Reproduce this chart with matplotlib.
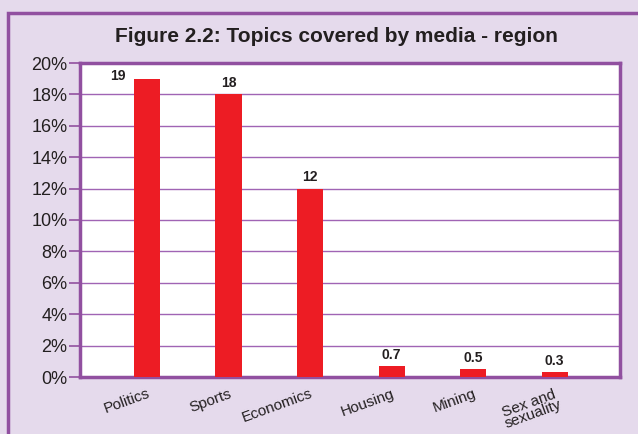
import matplotlib
matplotlib.use("Agg")
import matplotlib.pyplot as plt
from matplotlib.patches import Rectangle
from matplotlib.ticker import FuncFormatter

plt.rcParams['font.family'] = ['Liberation Sans', 'DejaVu Sans']

categories = ["Politics", "Sports", "Economics", "Housing", "Mining", "Sex and\nsexuality"]
values = [19, 18, 12, 0.7, 0.5, 0.3]
labels = ["19", "18", "12", "0.7", "0.5", "0.3"]
yticks = [0, 2, 4, 6, 8, 10, 12, 14, 16, 18, 20]

bg = "#E5DAEC"
purple = "#9150A0"
grid_c = "#A064B4"
red = "#ED1C24"
txt = "#231F20"

fig = plt.figure(figsize=(6.38, 4.34), dpi=100, facecolor=bg)
fig.patches.append(Rectangle((8/638, -0.1), 2.0, (434-13)/434 + 0.1, transform=fig.transFigure,
                             fill=False, edgecolor=purple, linewidth=2.5))

ax = fig.add_axes([80/638, 1-377/434, (620-80)/638, (377-63)/434])
ax.set_facecolor("white")
x = range(len(categories))
ax.bar(x, values, width=0.32, color=red, zorder=3)
ax.set_xlim(-0.82, 5.8)
ax.set_ylim(0, 20)
ax.set_yticks(yticks)
ax.yaxis.set_major_formatter(FuncFormatter(lambda v, p: f"{int(v)}%"))
ax.grid(axis="y", color=grid_c, linewidth=1.0, zorder=1)
for s in ax.spines.values():
    s.set_color(purple)
    s.set_linewidth(2.5)
ax.tick_params(axis="y", colors=purple, length=8, width=1.2, labelsize=13, labelcolor=txt, pad=1)
ax.tick_params(axis="x", length=0, pad=7)
ax.set_xticks(list(x))
ax.set_xticklabels(categories, rotation=20, fontsize=11, color=txt, ha="right", va="top",
                   rotation_mode="anchor", linespacing=0.78, multialignment="center")

for i, (v, l) in enumerate(zip(values, labels)):
    if i == 0:
        ax.annotate(l, (i, v), xytext=(-21, -3), textcoords="offset points", ha="center", va="bottom",
                    fontsize=10, fontweight="bold", color=txt)
    else:
        ax.annotate(l, (i, v), xytext=(0, 3), textcoords="offset points", ha="center", va="bottom",
                    fontsize=10, fontweight="bold", color=txt)

fig.text(336/638, 1-37/434, "Figure 2.2: Topics covered by media - region", ha="center", va="center",
         fontsize=15, fontweight="bold", color=txt)

fig.savefig("out.png", dpi=100, facecolor=bg)
